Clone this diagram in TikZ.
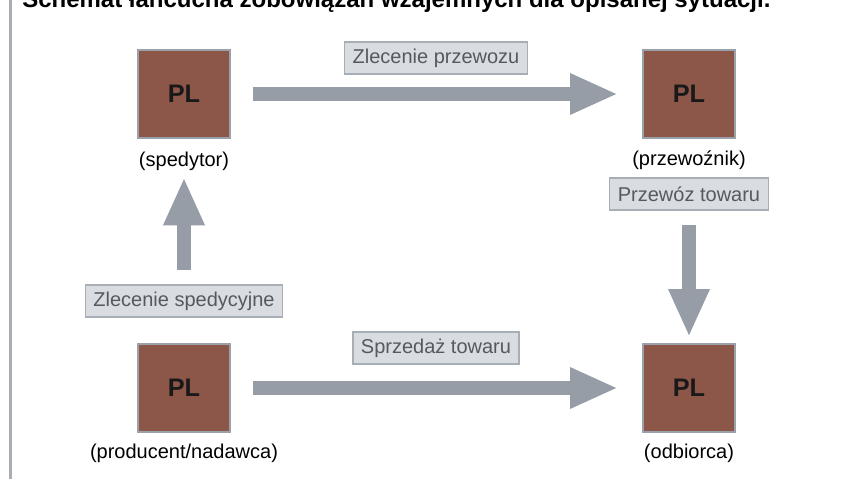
\documentclass[tikz,border=0pt]{standalone}
\usepackage{fontspec}
\setmainfont{Liberation Sans}
\usepackage{xcolor}
\usetikzlibrary{arrows.meta}
\definecolor{brick}{RGB}{140,87,72}
\definecolor{boxedge}{RGB}{155,161,170}
\definecolor{flowgray}{RGB}{150,157,167}
\definecolor{tagfill}{RGB}{217,220,225}
\definecolor{tagedge}{RGB}{168,174,181}
\definecolor{tagtext}{RGB}{85,90,95}
\definecolor{leftrule}{RGB}{168,173,181}

\begin{document}
\begin{tikzpicture}[x=0.75pt, y=-0.75pt,
  every node/.style={font=\fontsize{15}{18}\selectfont},
  party/.style={draw=boxedge, line width=1.5pt, fill=brick, minimum width=69pt,
    minimum height=66pt, inner sep=0pt, text=black!90,
    font=\fontsize{19}{22}\selectfont\bfseries},
  role/.style={inner sep=0pt},
  tag/.style={draw=tagedge, line width=0.9pt, fill=tagfill, text=tagtext,
    minimum height=24pt, inner sep=0pt, inner xsep=6pt},
  flow/.style={line width=10pt, draw=flowgray,
    -{Triangle[length=36pt, width=28.5pt]}}]
  \useasboundingbox (0,0) rectangle (842,479);
  % Page rule and title
  \draw[line width=2.25pt, leftrule] (10,0) -- (10,479);
  \node[anchor=base west, inner sep=0pt, font=\fontsize{18}{21}\selectfont\bfseries]
    (title) at (22,7) {Schemat łańcucha zobowiązań wzajemnych dla opisanej sytuacji.};
  % Parties
  \node[party] (sped) at (184,94) {PL};
  \node[party] (przew) at (689,94) {PL};
  \node[party] (prod) at (184,388) {PL};
  \node[party] (odb) at (689,388) {PL};
  \node[role] (spedL) at (184,161) {(spedytor)};
  \node[role] (przewL) at (689,160) {(przewoźnik)};
  \node[role] (prodL) at (184,453) {(producent/nadawca)};
  \node[role] (odbL) at (689,453) {(odbiorca)};
  % Labels
  \node[tag] (zlecP) at (436,58) {Zlecenie przewozu};
  \node[tag] (przewT) at (689,194) {Przewóz towaru};
  \node[tag] (zlecS) at (184,301) {Zlecenie spedycyjne};
  \node[tag] (sprzT) at (436,348) {Sprzedaż towaru};
  % Flows
  \draw[flow, shorten <=16.5pt, shorten >=18pt] (sped.east) -- (przew.west);
  \draw[flow, shorten <=16.5pt, shorten >=18pt] (prod.east) -- (odb.west);
  \draw[flow, shorten <=10.5pt, shorten >=5pt] (zlecS.north) -- (spedL.south);
  \draw[flow, shorten <=10.5pt, shorten >=4.5pt] (przewT.south) -- (odb.north);
\end{tikzpicture}
\end{document}
